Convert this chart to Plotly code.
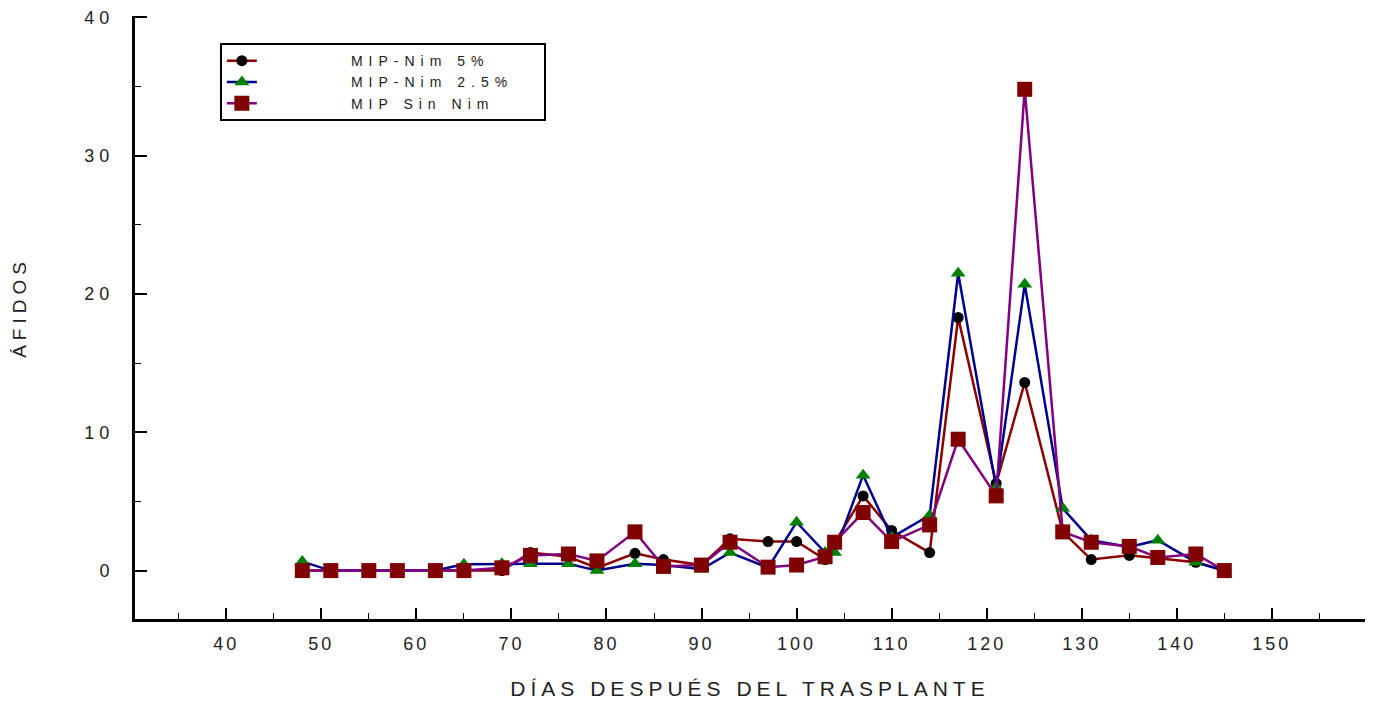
import plotly.graph_objects as go

# Days after transplant (x)
dias = [48, 51, 55, 58, 62, 65, 69, 72, 76, 79, 83, 86, 90, 93, 97, 100, 103, 104,
        107, 110, 114, 117, 121, 124, 128, 131, 135, 138, 142, 145]

# Aphid counts per treatment
nim_5 = [0, 0, 0, 0, 0, 0, 0, 1.3, 1.0, 0.2, 1.25, 0.8, 0.4, 2.3, 2.1, 2.1, 0.8, 2.0,
         5.4, 2.9, 1.3, 18.3, 6.3, 13.6, 2.8, 0.8, 1.1, 0.9, 0.6, 0]
nim_25 = [0.65, 0, 0, 0, 0, 0.45, 0.5, 0.5, 0.5, 0, 0.5, 0.4, 0.1, 1.3, 0.2, 3.5, 1.3, 1.3,
          6.9, 2.4, 4.0, 21.5, 6.0, 20.7, 4.5, 2.2, 1.7, 2.2, 0.6, 0]
sin_nim = [0, 0, 0, 0, 0, 0, 0.2, 1.1, 1.2, 0.7, 2.8, 0.3, 0.4, 2.05, 0.25, 0.4, 1.0, 2.05,
           4.2, 2.1, 3.3, 9.5, 5.4, 34.8, 2.8, 2.05, 1.75, 0.95, 1.2, 0]

series_names = ["MIP-Nim 5%", "MIP-Nim 2.5%", "MIP Sin Nim"]

x_ticks = list(range(40, 151, 10))
x_minor = list(range(35, 156, 10))
y_ticks = list(range(0, 41, 10))
y_minor = list(range(5, 36, 10))

FONT = "Liberation Sans, Arial, sans-serif"
NB = "\u00a0"

def pad(name, lead=9, trail=39):
    return NB * lead + name + NB * trail

fig = go.Figure()
fig.add_trace(go.Scatter(
    x=dias, y=nim_5, name=pad(series_names[0]), mode="lines+markers",
    line=dict(color="#8B0000", width=2.5),
    marker=dict(symbol="circle", size=11, color="#000000"),
))
fig.add_trace(go.Scatter(
    x=dias, y=nim_25, name=pad(series_names[1]), mode="lines+markers",
    line=dict(color="#00008B", width=2.5),
    marker=dict(symbol="triangle-up", size=13, color="#008000"),
))
fig.add_trace(go.Scatter(
    x=dias, y=sin_nim, name=pad(series_names[2]), mode="lines+markers",
    line=dict(color="#800080", width=2.5),
    marker=dict(symbol="square", size=15, color="#800000"),
))

fig.update_layout(
    width=1366, height=696,
    margin=dict(l=127, r=9, t=8, b=85),
    paper_bgcolor="white", plot_bgcolor="white",
    font=dict(family=FONT, color="#222222"),
    showlegend=True,
    legend=dict(
        x=0.069, y=0.955, xanchor="left", yanchor="top",
        bgcolor="white", bordercolor="black", borderwidth=2,
        font=dict(size=14, family=FONT, color="#222222"),
        tracegroupgap=0,
    ),
    xaxis=dict(
        range=[30.4, 159.8],
        automargin=False,
        showline=True, linecolor="black", linewidth=3,
        showgrid=False, zeroline=False,
        ticks="inside", ticklen=11, tickwidth=2, tickcolor="black",
        tickvals=x_ticks, ticktext=[str(v) for v in x_ticks],
        tickfont=dict(size=18),
        ticklabelstandoff=6,
        ticklabeloverflow="allow",
        minor=dict(tickvals=x_minor, ticks="inside", ticklen=6, tickwidth=1, tickcolor="black"),
        title=dict(text="DÍAS DESPUÉS DEL TRASPLANTE", font=dict(size=21), standoff=29),
    ),
    yaxis=dict(
        range=[-3.5, 40.1],
        automargin=False,
        showline=True, linecolor="black", linewidth=3,
        showgrid=False, zeroline=False,
        ticks="inside", ticklen=12, tickwidth=2, tickcolor="black",
        tickvals=y_ticks, ticktext=[str(v) for v in y_ticks],
        tickfont=dict(size=18),
        ticklabelstandoff=14,
        ticklabeloverflow="allow",
        minor=dict(tickvals=y_minor, ticks="inside", ticklen=6, tickwidth=1, tickcolor="black"),
    ),
    annotations=[dict(
        text="ÁFIDOS", textangle=-90, showarrow=False,
        xref="paper", yref="paper", x=0, y=0.516,
        xanchor="center", yanchor="middle", xshift=-115,
        font=dict(size=19, family=FONT, color="#222222"),
    )],
)

post = """
var gd = document.getElementById('{plot_id}');
function ls(sel, v){ gd.querySelectorAll(sel).forEach(function(t){ t.style.letterSpacing = v; }); }
ls('.xtick text', '3px');
ls('.ytick text', '5px');
ls('.g-xtitle text', '5px');
ls('.annotation-text', '5px');
ls('.legendtext', '6px');
"""

fig.write_html("out.html", post_script=post)
